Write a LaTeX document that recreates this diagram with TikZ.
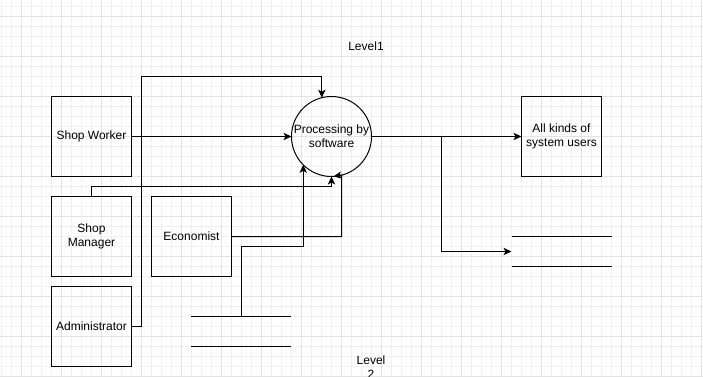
\documentclass[tikz,border=0pt]{standalone}
\usepackage{fontspec}
\setmainfont{Liberation Sans}
\usetikzlibrary{positioning,arrows.meta}

\tikzset{
  entity/.style={draw, line width=0.75pt, minimum width=60pt, minimum height=60pt,
    inner sep=0pt, outer sep=0pt, align=center, font=\fontsize{9}{10.5}\selectfont},
  process/.style={draw, circle, line width=0.75pt, minimum size=60pt,
    inner sep=0pt, outer sep=0pt, align=center, font=\fontsize{9}{10.5}\selectfont},
  store/.style={minimum width=75pt, minimum height=22.5pt, inner sep=0pt, outer sep=0pt},
  flow/.style={line width=0.75pt, -{Stealth[length=6pt,width=5.5pt,inset=1.5pt]}},
  minorgrid/.style={draw=black!6, line width=0.75pt},
  majorgrid/.style={draw=black!11, line width=0.75pt},
  caption/.style={font=\fontsize{9}{10.5}\selectfont, align=center, inner sep=0pt}
}

\begin{document}
\begin{tikzpicture}[x=0.75pt, y=-0.75pt]
	\useasboundingbox (0,0) rectangle (703,376);
	\clip (0,0) rectangle (703,376);
	%% background grid
	\fill[white] (0,0) rectangle (703,376);
	\foreach \x in {1.5,11.5,...,701.5} \draw[minorgrid] (\x,0) -- (\x,376);
	\foreach \y in {6,16,...,376} \draw[minorgrid] (0,\y) -- (703,\y);
	\foreach \x in {21.5,61.5,...,701.5} \draw[majorgrid] (\x,0) -- (\x,376);
	\foreach \y in {16,56,...,376} \draw[majorgrid] (0,\y) -- (703,\y);

	%% entities and process
	\node[entity] (sw) at (91.5,136.5) {Shop Worker};
	\node[entity, below=15pt of sw] (sm) {Shop\\Manager};
	\node[entity, below=7.5pt of sm] (adm) {Administrator};
	\node[entity, right=15pt of sm] (eco) {Economist};
	\node[process] (proc) at (331.5,136.5) {Processing by\\software};
	\node[entity] (users) at (561.5,136.5) {All kinds of\\system users};

	%% data stores
	\node[store] (st1) at (241,331) {};
	\node[store] (st2) at (561.5,251.5) {};
	\draw[line width=0.75pt] (st1.north west) -- (st1.north east)
		(st1.south west) -- (st1.south east);
	\draw[line width=0.75pt] (st2.north west) -- (st2.north east)
		(st2.south west) -- (st2.south east);

	\node[caption] (lvl1) at (366,46) {Level1};
	\node[caption] (lvl2) at (371,367) {Level\\2};

	%% flows
	\coordinate (split) at (441,136.5);
	\draw[flow] (sw) -- (proc);
	\draw[flow] (proc) -- (users);
	\draw[flow] (adm.east) -| (141,76) -| (proc.104.5);
	\draw[flow] (sm.north) -- ++(0,-10) -| (proc.south);
	\draw[flow] (eco.east) -| (341.5,175) -- (proc.-87);
	\draw[flow] (st1.north) -- ++(0,-70) -| (proc.-135);
	\draw[flow] (split) |- (st2.west);
\end{tikzpicture}
\end{document}
